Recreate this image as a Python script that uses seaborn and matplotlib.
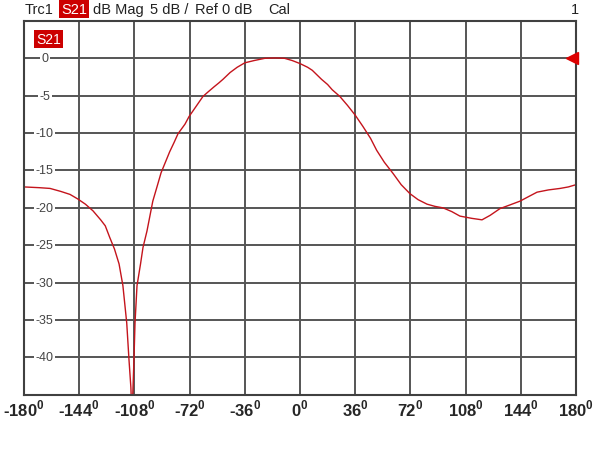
import seaborn as sns
import matplotlib.pyplot as plt
import pandas as pd

# S21 magnitude trace (deg, dB)
angulo = [-180, -170, -163, -156, -150, -145, -140, -135, -130, -127, -124, -121,
          -118, -115.5, -113, -111.5, -110.3, -109.6, -108.9, -108.3, -107.6, -106.3,
          -104, -102.4, -99.8, -96, -93, -90.6, -88, -85, -82, -79.6, -75, -72.4, -67,
          -63.3, -60, -56, -53, -50.2, -45.6, -41, -36, -30, -23, -16, -10, -5, 0, 3, 5,
          8, 11, 14, 18, 21, 26, 31, 36, 41, 46, 50,
          55, 60.7, 66, 71.7, 77, 82.8, 88, 93.3, 99, 104.3, 112, 118.7, 124, 130.4,
          137, 143.5, 149, 154.6, 162, 169.6, 175, 180]
magnitud = [-17.2, -17.3, -17.4, -17.8, -18.2, -18.8, -19.5, -20.4, -21.6, -22.4, -24.0, -25.5,
            -27.5, -30.4, -35.4, -40.4, -44.0, -48.0, -44.0, -40.4, -35.4, -30.4,
            -27.5, -25.3, -23.1, -19.1, -17.0, -15.3, -14.0, -12.5, -11.2, -10.1, -8.8, -7.8, -6.2,
            -5.1, -4.5, -3.8, -3.3, -2.8, -1.9, -1.2, -0.6, -0.3, 0.0, 0.05, 0.0, -0.3, -0.7, -1.0, -1.2,
            -1.6, -2.2, -2.8, -3.5, -4.2, -5.1, -6.3, -7.6, -9.1, -10.7, -12.3,
            -13.9, -15.4, -16.9, -18.1, -18.9, -19.5, -19.8, -20.0, -20.5, -21.1, -21.4, -21.6, -21.0, -20.1,
            -19.6, -19.1, -18.5, -17.9, -17.6, -17.4, -17.2, -16.9]

xticks = [-180, -144, -108, -72, -36, 0, 36, 72, 108, 144, 180]
yticks = [0, -5, -10, -15, -20, -25, -30, -35, -40]

df = pd.DataFrame({"angulo": angulo, "magnitud": magnitud})

sns.set_style("white")
plt.rcParams["font.family"] = ["Liberation Sans", "DejaVu Sans"]
plt.rcParams["mathtext.fontset"] = "custom"
plt.rcParams["mathtext.rm"] = "Liberation Sans:bold"
plt.rcParams["mathtext.bf"] = "Liberation Sans:bold"

fig = plt.figure(figsize=(6, 4.64), dpi=100)
ax = fig.add_axes([0.04, 0.147, 0.92, 0.8057])

sns.lineplot(data=df, x="angulo", y="magnitud", ax=ax, color="#c4141c", linewidth=1.0)

ax.set_xlim(-180, 180)
ax.set_ylim(-45, 5)
ax.set_xticks(xticks)
ax.set_yticks(yticks + [-45, 5])
ax.grid(True, color="#555555", linewidth=1.4)
ax.set_yticklabels([])
ax.tick_params(axis="y", length=0)
ax.tick_params(axis="x", length=0, pad=2)
ax.set_xticklabels([r"%d$^{\mathbf{0}}$" % v for v in xticks], fontsize=12, fontweight="bold")
for s in ax.spines.values():
    s.set_color("#404040")
    s.set_linewidth(1.5)
ax.set_xlabel("")
ax.set_ylabel("")

# y labels drawn inside the first column
for v in yticks:
    ax.text(-166.5, v, str(v), fontsize=9, color="#444444", ha="center", va="center",
            bbox=dict(facecolor="white", edgecolor="none", pad=1.2), zorder=3)

# channel label and reference marker
ax.text(-164, 2.55, "S21", fontsize=10, color="white", ha="center", va="center",
        bbox=dict(facecolor="#cc0000", edgecolor="none", pad=1.5), zorder=4)
ax.plot([177.5], [0], marker="<", color="#dd0000", markersize=8, clip_on=False, zorder=5)

# header line
fig.text(25 / 600, 1 - 10 / 464, "Trc1", fontsize=10.5, color="#222222", va="center")
fig.text(61 / 600, 1 - 10 / 464, "S21", fontsize=10.5, color="white", va="center",
         bbox=dict(facecolor="#cc0000", edgecolor="none", pad=1.2))
fig.text(93 / 600, 1 - 10 / 464, "dB Mag", fontsize=10.5, color="#222222", va="center")
fig.text(150 / 600, 1 - 10 / 464, "5 dB /", fontsize=10.5, color="#222222", va="center")
fig.text(195 / 600, 1 - 10 / 464, "Ref 0 dB", fontsize=10.5, color="#222222", va="center")
fig.text(268 / 600, 1 - 10 / 464, "Cal", fontsize=10.5, color="#222222", va="center")
fig.text(571 / 600, 1 - 10 / 464, "1", fontsize=10.5, color="#222222", va="center")

plt.savefig("out.png", dpi=100)
plt.close()
